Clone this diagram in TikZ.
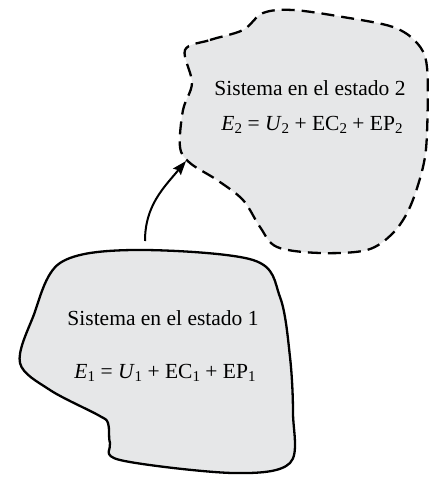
\documentclass[tikz,border=0pt]{standalone}
\usepackage{fontspec}
\setmainfont{Liberation Serif}
\usetikzlibrary{arrows.meta}
\newcommand\sbx[1]{\raisebox{-0.35ex}{\fontsize{15}{15}\selectfont #1}}
\begin{document}
\begin{tikzpicture}[x=1pt,y=-1pt,
  blob/.style={line width=2.3pt, line join=round},
  lbl/.style={font=\fontsize{21.5}{25}\selectfont, inner sep=0pt}]
\useasboundingbox (0,0) rectangle (433,477);
\definecolor{blobgray}{RGB}{230,231,232}
% state 1 (solid)
\draw[blob, fill=blobgray] plot[smooth cycle, tension=0.55] coordinates {
  (60,263) (133,250) (253,260) (280,297) (290,357) (293,413) (290,463)
  (233,473) (120,460) (110,443) (108,423) (98,415) (50,390) (20,363)
  (33,317)};
% state 2 (dashed)
\draw[blob, fill=blobgray, dash pattern=on 13pt off 7pt] plot[smooth cycle, tension=0.55] coordinates {
  (185,50) (210,40) (243,30) (263,13) (293,10) (343,17) (393,27) (417,43)
  (427,67) (427,133) (423,167) (410,207) (393,233) (367,250) (320,253)
  (277,247) (260,227) (243,200) (217,180) (190,163) (180,147) (183,110)
  (192,83)};
\node[lbl] (t1) at (163,318) {Sistema en el estado 1};
\node[lbl] (e1) at (165,373) {\textit{E}\sbx{1} = \textit{U}\sbx{1} + EC\sbx{1} + EP\sbx{1}};
\node[lbl] (t2) at (310,88) {Sistema en el estado 2};
\node[lbl] (e2) at (312,125) {\textit{E}\sbx{2} = \textit{U}\sbx{2} + EC\sbx{2} + EP\sbx{2}};
\coordinate (a0) at (145,241);
\coordinate (a1) at (186,161);
\draw[line width=2pt, -{Stealth[length=14pt,width=10pt,inset=2pt]}] (a0) to[out=90, in=230] (a1);
\end{tikzpicture}
\end{document}
